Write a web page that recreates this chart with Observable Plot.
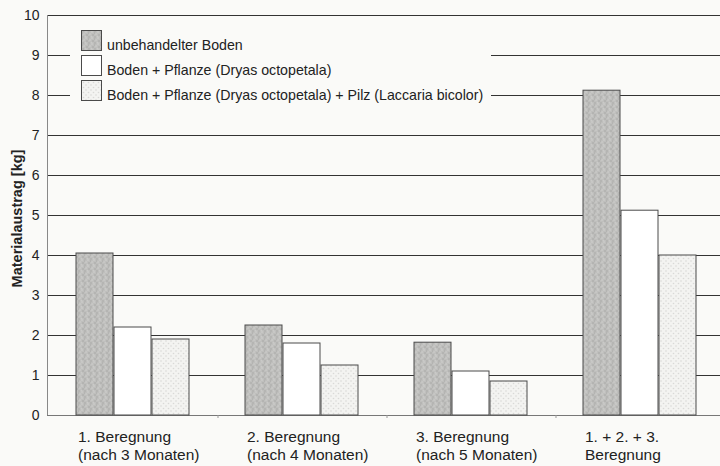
<!DOCTYPE html>
<html>
<head>
<meta charset="utf-8">
<script src="https://cdn.jsdelivr.net/npm/d3@7"></script>
<script src="https://cdn.jsdelivr.net/npm/@observablehq/plot@0.6"></script>
<style>
  html, body { margin: 0; padding: 0; background: #fafaf8; }
  body { font-family: "Liberation Sans", Arial, Helvetica, sans-serif; color: #222; }
  #wrap { position: relative; width: 720px; height: 466px; overflow: hidden; }
  #legend { position: absolute; left: 70px; top: 24px; width: 421px; height: 82px; background: #fafaf8; }
  #legend svg { display: block; }
</style>
</head>
<body>
<div id="wrap">
  <div id="chart"></div>
  <div id="legend"></div>
</div>
<script>
// ---- data ----
const categories = [
  "1. Beregnung\n(nach 3 Monaten)",
  "2. Beregnung\n(nach 4 Monaten)",
  "3. Beregnung\n(nach 5 Monaten)",
  "1. + 2. + 3.\nBeregnung"
];
const seriesNames = [
  "unbehandelter Boden",
  "Boden + Pflanze (Dryas octopetala)",
  "Boden + Pflanze (Dryas octopetala) + Pilz (Laccaria bicolor)"
];
const unbehandelterBoden = [4.05, 2.25, 1.82, 8.12];
const bodenPflanze = [2.2, 1.8, 1.1, 5.12];
const bodenPflanzePilz = [1.9, 1.25, 0.85, 4.0];
const yTicks = [0, 1, 2, 3, 4, 5, 6, 7, 8, 9, 10];
const yLabel = "Materialaustrag [kg]";

const table = categories.map((c, i) => ({
  category: c,
  a: unbehandelterBoden[i],
  b: bodenPflanze[i],
  c: bodenPflanzePilz[i]
}));

// ---- texture patterns (styling) ----
const defsSvg = d3.select("body").append("svg")
  .attr("width", 0).attr("height", 0).style("position", "absolute");
const defs = defsSvg.append("defs");
const pg = defs.append("pattern").attr("id", "grayTex")
  .attr("patternUnits", "userSpaceOnUse").attr("width", 6).attr("height", 6);
pg.append("rect").attr("width", 6).attr("height", 6).attr("fill", "#bfbfbd");
[[1,1,"#a9a9a7"],[4,2,"#d2d2d0"],[2,4,"#d0d0ce"],[5,5,"#a7a7a5"],[0.5,3,"#b0b0ae"],[3.5,0.5,"#cacac8"]]
  .forEach(([x,y,c]) => pg.append("circle").attr("cx", x).attr("cy", y).attr("r", 0.8).attr("fill", c));
const pd = defs.append("pattern").attr("id", "dotTex")
  .attr("patternUnits", "userSpaceOnUse").attr("width", 5).attr("height", 5);
pd.append("rect").attr("width", 5).attr("height", 5).attr("fill", "#f3f3f1");
[[1,1],[3.5,3.5]].forEach(([x,y]) => pd.append("circle").attr("cx", x).attr("cy", y).attr("r", 0.8).attr("fill", "#d9d9d7"));

const fills = ["url(#grayTex)", "#ffffff", "url(#dotTex)"];
const barStroke = "#4a4a4a";

const chart = Plot.plot({
  width: 720,
  height: 466,
  marginTop: 15,
  marginBottom: 51,
  marginLeft: 47,
  marginRight: 0,
  style: { background: "transparent", fontFamily: "'Liberation Sans', Arial, Helvetica, sans-serif", color: "#222" },
  x: { domain: categories, range: [47, 725], paddingInner: 0.33, paddingOuter: 0.165, label: null },
  y: { domain: [0, 10], label: null },
  marks: [
    Plot.ruleY(yTicks.slice(1), { stroke: "#333", strokeWidth: 1, strokeOpacity: 1 }),
    Plot.ruleY([0], { stroke: "#777", strokeWidth: 1 }),
    Plot.barY(table, { x: "category", y: "a", fill: fills[0], stroke: barStroke, strokeWidth: 1, insetLeft: 0, insetRight: 76 }),
    Plot.barY(table, { x: "category", y: "b", fill: fills[1], stroke: barStroke, strokeWidth: 1, insetLeft: 38, insetRight: 38 }),
    Plot.barY(table, { x: "category", y: "c", fill: fills[2], stroke: barStroke, strokeWidth: 1, insetLeft: 76, insetRight: 0 }),
    Plot.axisY({ ticks: yTicks, tickSize: 0, tickPadding: 8, fontSize: 14, label: null }),
    Plot.axisX({ tickSize: 3, text: null, dx: 85, stroke: "#999", label: null }),
    Plot.axisX({ tickSize: 0, tickPadding: 13, textAnchor: "start", dx: -55, fontSize: 15.5, lineHeight: 1.18, label: null }),
    Plot.text([yLabel], { frameAnchor: "left", textAnchor: "middle", rotate: -90, dx: -30, dy: 3, fontSize: 14.5, fontWeight: "bold", fill: "#222" })
  ]
});
document.getElementById("chart").appendChild(chart);

// vertical left axis line
const ys = chart.scale("y");
d3.select(chart).append("line")
  .attr("x1", 47.5).attr("x2", 47.5)
  .attr("y1", ys.apply(10)).attr("y2", ys.apply(0))
  .attr("stroke", "#888").attr("stroke-width", 1);

// legend
const lg = d3.select("#legend").append("svg").attr("width", 421).attr("height", 82);
seriesNames.forEach((name, i) => {
  const y0 = 6 + i * 25;
  lg.append("rect").attr("x", 11.5).attr("y", y0 + 0.5).attr("width", 20).attr("height", 20)
    .attr("fill", fills[i]).attr("stroke", barStroke).attr("stroke-width", 1);
  lg.append("text").attr("x", 37).attr("y", y0 + 20).attr("font-size", 14.2)
    .attr("font-family", "'Liberation Sans', Arial, sans-serif").attr("fill", "#222").text(name);
});
</script>
</body>
</html>
